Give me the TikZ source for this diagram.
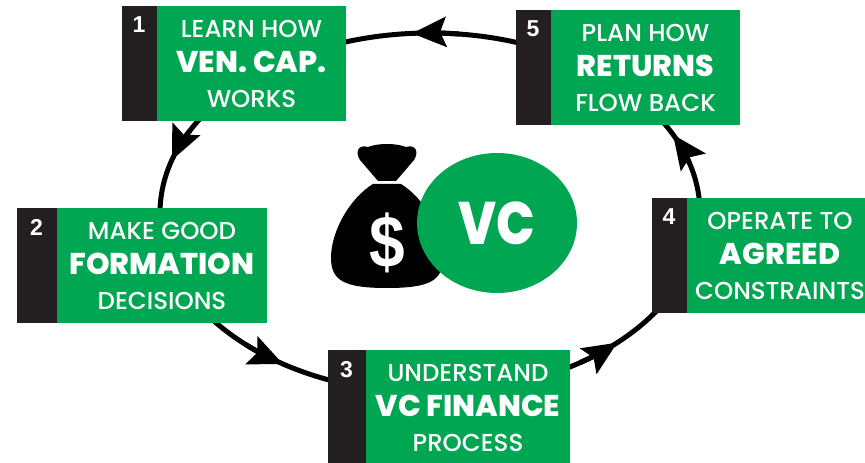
\documentclass[tikz,border=0pt]{standalone}
\usepackage{fontspec}
\setmainfont{Poppins}[UprightFont = * Medium, BoldFont = * ExtraBold]
\newfontfamily\numfont{Liberation Sans}
\usetikzlibrary{positioning, arrows.meta, shapes.geometric}
\definecolor{vcgreen}{HTML}{00A651}
\definecolor{tabblack}{HTML}{231F20}
\newcommand\midline[1]{{\bfseries\fontsize{30}{35}\selectfont #1}}

\begin{document}
\begin{tikzpicture}[
          x = 1pt, y = 1pt,
          box/.style = {fill = vcgreen, text = white, align = center, minimum height = 115pt,
                        inner sep = 0, font = \fontsize{24.5}{35}\selectfont},
          tab/.style = {fill = tabblack, minimum height = 115pt, inner sep = 0},
          num/.style = {anchor = north, yshift = -11pt, inner sep = 0, text = white,
                        font = \numfont\bfseries\fontsize{23}{23}\selectfont},
          head/.style = {line width = 5pt, -{Stealth[length = 34pt, width = 30pt, inset = 6pt]}}
        ]
          \useasboundingbox (0,0) rectangle (865,463);
          % the cycle
          \coordinate (c) at (430,250);
          \draw [line width = 5pt] (c) ellipse [x radius = 270, y radius = 180];
          \foreach \t in {93.8, 162.9, 237, 313.9, 25.8}
            { \draw [head] (c) ++(\t-10:270 and 180)
                arc [start angle = \t-10, end angle = \t, x radius = 270, y radius = 180] ; } ;
          % place nodes
          \path node (s1) [box, minimum width = 189pt] at (251.5,399.5) {LEARN HOW\\\midline{VEN. CAP.}\\WORKS};
          \path node (s2) [box, minimum width = 210pt] at (162,197.5) {MAKE GOOD\\\midline{FORMATION}\\DECISIONS};
          \path node (s3) [box, minimum width = 204pt] at (468,55.5) {UNDERSTAND\\\midline{VC FINANCE}\\PROCESS};
          \path node (s4) [box, minimum width = 186pt] at (780,207.5) {OPERATE TO\\\midline{AGREED}\\CONSTRAINTS};
          \path node (s5) [box, minimum width = 189pt] at (645.5,395.5) {PLAN HOW\\\midline{RETURNS}\\FLOW BACK};
          \node (t1) [tab, minimum width = 35pt, left = 0pt of s1, label = {[num]north:1}] {};
          \node (t2) [tab, minimum width = 40pt, left = 0pt of s2, label = {[num]north:2}] {};
          \node (t3) [tab, minimum width = 38pt, left = 0pt of s3, label = {[num]north:3}] {};
          \node (t4) [tab, minimum width = 35pt, left = 0pt of s4, label = {[num]north:4}] {};
          \node (t5) [tab, minimum width = 35pt, left = 0pt of s5, label = {[num]north:5}] {};
          % money bag
          \fill [black] (373,279) .. controls (350,265) and (331,232) .. (331,205)
            .. controls (331,182) and (345,175) .. (387,175)
            .. controls (429,175) and (443,182) .. (443,205)
            .. controls (443,232) and (424,265) .. (401,279) -- cycle;
          \fill [black] (378,282) -- (360,303) .. controls (355,311) and (358,319) .. (368,316)
            .. controls (378,320) and (396,320) .. (406,316)
            .. controls (416,319) and (419,311) .. (414,303) -- (396,282) -- cycle;
          \node (dollar) [text = white, inner sep = 0, font = \numfont\bfseries\fontsize{64}{64}\selectfont]
            at (387,220) {\scalebox{1}[1.15]{\$}};
          % the badge
          \node (vc) [ellipse, fill = vcgreen, minimum width = 160pt, minimum height = 140pt, inner sep = 0,
            text = white, font = \bfseries\fontsize{60}{60}\selectfont] at (497,240) {\scalebox{0.85}[1]{VC}};
        \end{tikzpicture}
\end{document}
